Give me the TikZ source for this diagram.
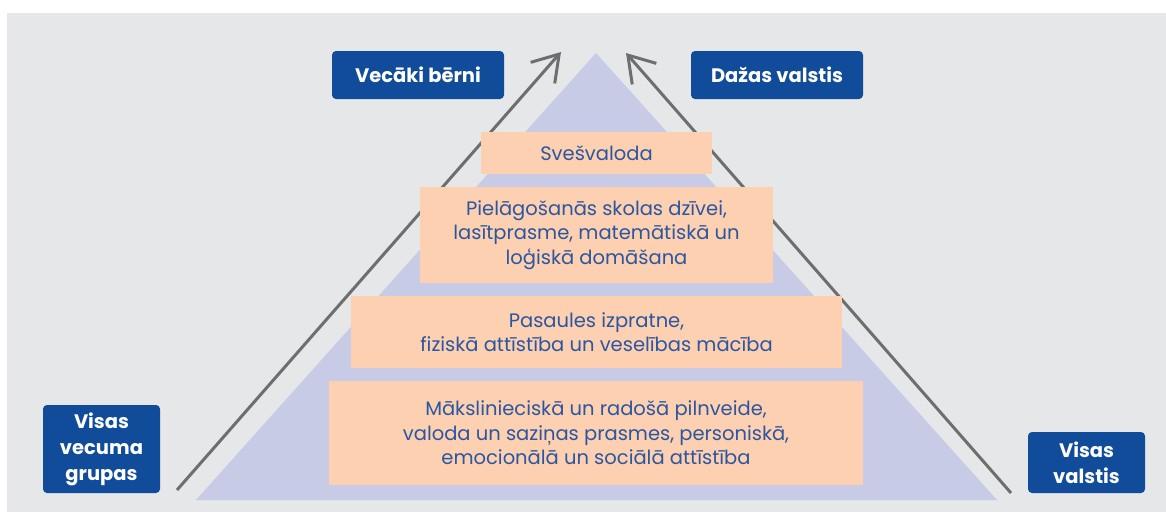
\documentclass[tikz,border=0pt]{standalone}
\usepackage{fontspec}
\setmainfont{Poppins}
\usetikzlibrary{arrows.meta}
\definecolor{pagegrey}{RGB}{230,231,233}
\definecolor{pyrlilac}{RGB}{199,203,230}
\definecolor{levelpeach}{RGB}{252,208,176}
\definecolor{leveltext}{RGB}{43,86,160}
\definecolor{tagblue}{RGB}{16,76,154}
\definecolor{arrowgrey}{RGB}{110,110,110}

\begin{document}
\begin{tikzpicture}[x=1pt, y=-1pt,
  level/.style={fill=levelpeach, text=leveltext, inner sep=0pt, align=center,
    font=\fontsize{19.5}{24.5}\selectfont},
  tag/.style={fill=tagblue, text=white, rounded corners=4pt, inner sep=0pt, align=center,
    font=\fontsize{19.5}{26}\selectfont\bfseries},
  arrow/.style={-{Straight Barb[length=25pt, width=32pt, line width=3pt]}, line width=3pt, arrowgrey}
]
  % Page
  \useasboundingbox (0,0) rectangle (1166,512);
  \fill[pagegrey] (7,13) rectangle (1166,512);

  % Pyramid
  \fill[pyrlilac] (196,500) -- (596,53) -- (997,500) -- cycle;

  % Arrows
  \coordinate (lefttail) at (177,490);
  \coordinate (lefttip) at (561,52);
  \coordinate (righttail) at (1011,493);
  \coordinate (righttip) at (626,53);
  \draw[arrow] (lefttail) -- (lefttip);
  \draw[arrow] (righttail) -- (righttip);

  % Levels
  \node[level, minimum width=231pt, minimum height=42pt] (foreign) at (596.5,153) {Svešvaloda};
  \node[level, minimum width=353pt, minimum height=96pt] (school) at (596.5,235)
    {Pielāgošanās skolas dzīvei,\\lasītprasme, matemātiskā un\\loģiskā domāšana};
  \node[level, minimum width=491pt, minimum height=72pt] (world) at (596.5,332)
    {Pasaules izpratne,\\fiziskā attīstība un veselības mācība};
  \node[level, minimum width=534pt, minimum height=104pt] (arts) at (596,433)
    {Mākslinieciskā un radošā pilnveide,\\valoda un saziņas prasmes, personiskā,\\emocionālā un sociālā attīstība};

  % Tags
  \node[tag, minimum width=172pt, minimum height=48pt] (older) at (418,75) {Vecāki bērni};
  \node[tag, minimum width=172pt, minimum height=48pt] (some) at (777,75) {Dažas valstis};
  \node[tag, minimum width=117pt, minimum height=88pt] (allages) at (101.5,449) {Visas\\vecuma\\grupas};
  \node[tag, minimum width=117pt, minimum height=61pt] (allcountries) at (1086.5,462.5) {Visas\\valstis};
\end{tikzpicture}
\end{document}
